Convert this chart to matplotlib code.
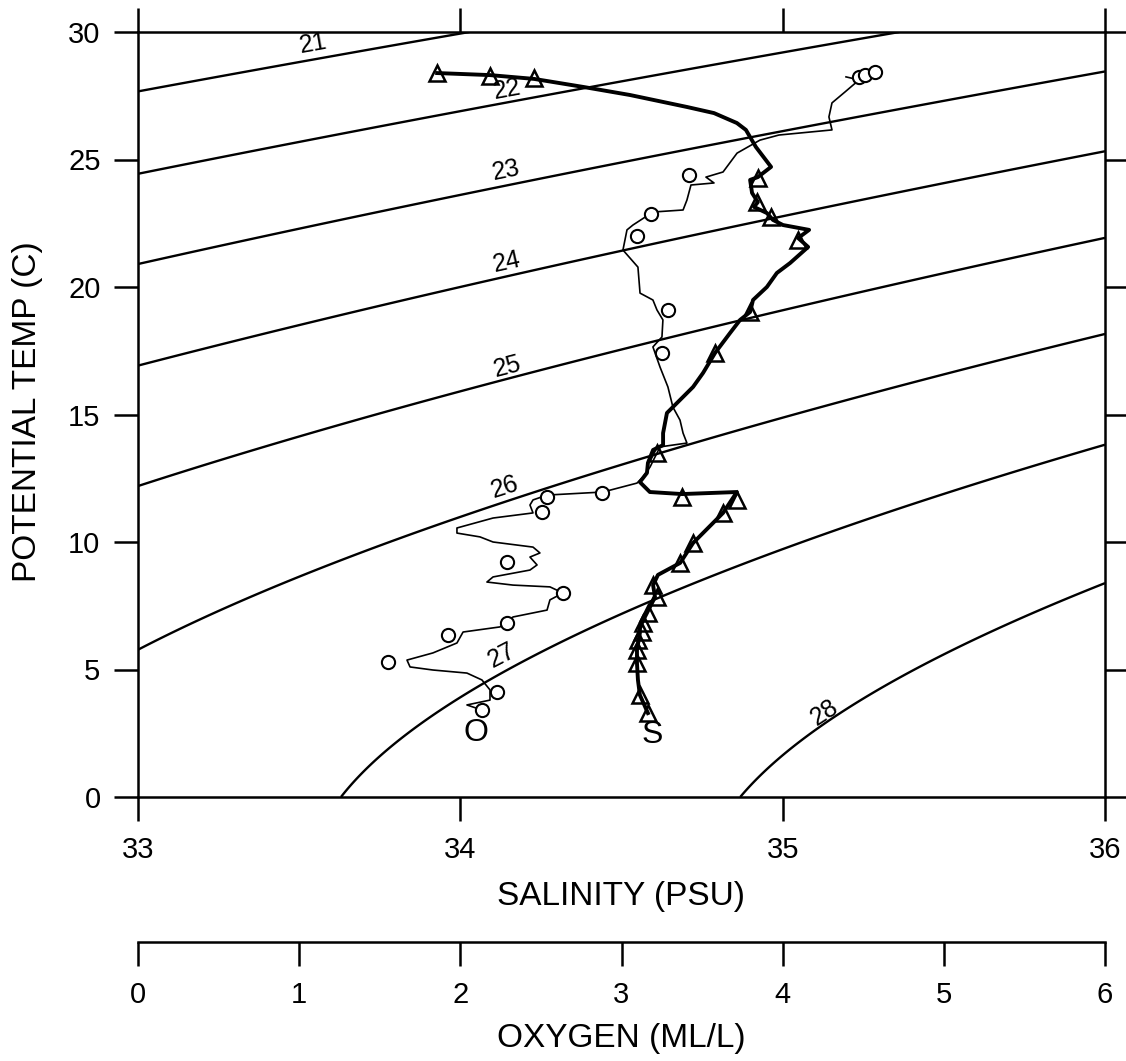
import numpy as np
import matplotlib
matplotlib.use("Agg")
import matplotlib.pyplot as plt

plt.rcParams['font.family'] = ['Liberation Sans', 'DejaVu Sans']

# --- data ---
# salinity profile (thick line), surface -> deep
sal_S = [33.928, 34.092, 34.229, 34.384, 34.526, 34.703, 34.787, 34.858, 34.886, 34.917,
         34.964, 34.923, 34.899, 34.905, 34.923, 34.911, 34.951, 34.970, 35.001, 35.082,
         35.048, 35.079, 35.023, 34.982, 34.951, 34.908, 34.899, 34.868, 34.837, 34.790,
         34.753, 34.722, 34.672, 34.641, 34.629, 34.629, 34.598, 34.582, 34.579, 34.557,
         34.588, 34.688, 34.858, 34.815, 34.722, 34.682, 34.613, 34.598, 34.604, 34.579,
         34.557, 34.557, 34.548, 34.548, 34.551, 34.557, 34.582]
sal_T = [28.39, 28.31, 28.16, 27.84, 27.53, 27.06, 26.82, 26.43, 26.16, 25.49,
         24.71, 24.31, 24.20, 23.69, 23.33, 23.14, 22.90, 22.63, 22.43, 22.24,
         21.92, 21.57, 20.94, 20.55, 20.00, 19.49, 19.02, 18.71, 18.20, 17.41,
         16.63, 16.08, 15.45, 15.06, 14.27, 13.80, 13.61, 13.10, 12.71, 12.35,
         11.96, 11.88, 11.96, 11.14, 9.96, 9.18, 8.71, 8.31, 7.84, 7.22,
         6.67, 6.43, 5.76, 5.25, 4.59, 4.00, 3.29]
tri_S = [33.928, 34.092, 34.229, 34.923, 34.920, 34.964, 35.048, 34.899, 34.790, 34.610,
         34.688, 34.858, 34.815, 34.722, 34.682, 34.598, 34.610, 34.582, 34.567, 34.564,
         34.551, 34.548, 34.548, 34.557, 34.582]
tri_T = [28.39, 28.27, 28.20, 24.27, 23.33, 22.75, 21.84, 19.02, 17.41, 13.50,
         11.76, 11.65, 11.14, 9.96, 9.18, 8.31, 7.84, 7.22, 6.82, 6.47,
         6.16, 5.76, 5.25, 4.00, 3.29]

# oxygen profile (thin line), ml/l
oxy_O = [4.393, 4.474, 4.387, 4.306, 4.287, 4.306, 3.977, 3.859, 3.717, 3.630,
         3.524, 3.574, 3.431, 3.406, 3.382, 3.195, 3.071, 3.034, 3.009, 3.102,
         3.115, 3.195, 3.220, 3.257, 3.251, 3.195, 3.239, 3.288, 3.319, 3.363,
         3.382, 3.406, 3.239, 3.177, 3.133, 3.096, 2.885, 2.538, 2.451, 2.432,
         2.451, 2.203, 1.979, 1.979, 2.122, 2.203, 2.451, 2.494, 2.432, 2.476,
         2.432, 2.203, 2.165, 2.327, 2.556, 2.637, 2.556, 2.538, 2.327, 2.246,
         2.017, 1.979, 1.830, 1.669, 1.688, 1.830, 2.041, 2.134, 2.184, 2.184,
         2.041, 2.134]
oxy_T = [28.24, 28.12, 27.65, 27.22, 26.67, 26.16, 25.96, 25.76, 25.25, 24.51,
         24.31, 24.08, 24.00, 23.41, 23.02, 22.94, 22.43, 22.24, 21.45, 20.78,
         19.76, 19.49, 19.10, 18.71, 18.04, 17.65, 16.86, 16.08, 15.29, 14.78,
         14.27, 13.88, 13.73, 12.94, 12.55, 12.31, 11.96, 11.84, 11.65, 11.45,
         11.14, 10.94, 10.55, 10.35, 10.20, 10.00, 9.80, 9.57, 9.41, 9.10,
         8.90, 8.63, 8.43, 8.31, 8.24, 8.00, 7.73, 7.33, 7.06, 6.67,
         6.47, 6.04, 5.65, 5.37, 5.10, 4.98, 4.86, 4.59, 4.20, 3.80,
         3.61, 3.41]
circ_O = [4.474, 4.511, 4.573, 3.419, 3.183, 3.096, 3.288, 3.251, 2.879, 2.538,
          2.507, 2.290, 2.637, 2.290, 1.923, 1.551, 2.227, 2.134]
circ_T = [28.24, 28.31, 28.43, 24.39, 22.86, 22.00, 19.10, 17.41, 11.92, 11.76,
          11.18, 9.22, 8.00, 6.82, 6.35, 5.29, 4.12, 3.41]

# sigma-theta contour levels and where their labels sit
sigma_levels = [21, 22, 23, 24, 25, 26, 27, 28]
label_S = [33.543, 34.145, 34.142, 34.145, 34.145, 34.139, 34.129, 35.131]
label_T = [29.53, 27.73, 24.59, 20.98, 16.86, 12.16, 5.57, 3.33]


def sigma_t(S, T):
    # UNESCO 1980 density at the surface, minus 1000
    rw = (999.842594 + 6.793952e-2*T - 9.095290e-3*T**2 + 1.001685e-4*T**3
          - 1.120083e-6*T**4 + 6.536332e-9*T**5)
    A = 8.24493e-1 - 4.0899e-3*T + 7.6438e-5*T**2 - 8.2467e-7*T**3 + 5.3875e-9*T**4
    B = -5.72466e-3 + 1.0227e-4*T - 1.6546e-6*T**2
    return rw + A*S + B*S**1.5 + 4.8314e-4*S**2 - 1000


W, H = 1126, 1061
fig = plt.figure(figsize=(W/100, H/100), dpi=100)
ax = fig.add_axes([138/W, 1-797/H, 967/W, 765/H])

sg, tg = np.meshgrid(np.linspace(33, 36, 300), np.linspace(0, 30, 300))
ax.contour(sg, tg, sigma_t(sg, tg), levels=sigma_levels, colors='k', linewidths=1.7)

for lev, s, t in zip(sigma_levels, label_S, label_T):
    h = 1e-3
    gS = (sigma_t(s+h, t) - sigma_t(s-h, t)) / (2*h)
    gT = (sigma_t(s, t+h) - sigma_t(s, t-h)) / (2*h)
    ang = np.degrees(np.arctan2(-gS/gT, 1.0))
    ax.text(s, t, str(lev), fontsize=18, rotation=ang, transform_rotates_text=True,
            rotation_mode='anchor', ha='center', va='center')

ax.plot(sal_S, sal_T, color='k', lw=2.8)
ax.plot(tri_S, tri_T, ls='none', marker='^', ms=11, mfc='none', mec='k', mew=1.8)
ax.text(34.595, 2.45, 'S', fontsize=23, ha='center', va='center')

ax2 = ax.twiny()
ax2.set_xlim(0, 6)
ax2.axis('off')
ax2.plot(oxy_O, oxy_T, color='k', lw=1.2)
ax2.plot(circ_O, circ_T, ls='none', marker='o', ms=9.5, mfc='white', mec='k', mew=1.5)
ax2.text(2.097, 2.51, 'O', fontsize=23, ha='center', va='center')

ax.set_xlim(33, 36)
ax.set_ylim(0, 30)
ax2.set_ylim(0, 30)
ax.set_xticks([33, 34, 35, 36])
ax.set_yticks(range(0, 31, 5))
for sp in ax.spines.values():
    sp.set_linewidth(1.8)
ax.tick_params(direction='out', length=17, width=1.8, top=True, right=True)
ax.tick_params(axis='y', labelsize=21, pad=10)
ax.tick_params(axis='x', labelsize=21, pad=11)

# separate oxygen scale under the salinity axis
axo = fig.add_axes([138/W, 1-942/H, 967/W, 1e-4])
axo.set_xlim(0, 6)
axo.set_xticks(range(7))
axo.set_yticks([])
axo.patch.set_visible(False)
for k in ['top', 'left', 'right']:
    axo.spines[k].set_visible(False)
axo.spines['bottom'].set_linewidth(1.8)
axo.tick_params(direction='out', length=17, width=1.8, labelsize=21, pad=11)

fig.text(621/W, 1-897/H, 'SALINITY (PSU)', fontsize=24, ha='center', va='center')
fig.text(621/W, 1-1038/H, 'OXYGEN (ML/L)', fontsize=24, ha='center', va='center')
fig.text(28/W, 1-412/H, 'POTENTIAL TEMP (C)', fontsize=24, rotation=90,
         ha='center', va='center')

fig.savefig('out.png', dpi=100)
